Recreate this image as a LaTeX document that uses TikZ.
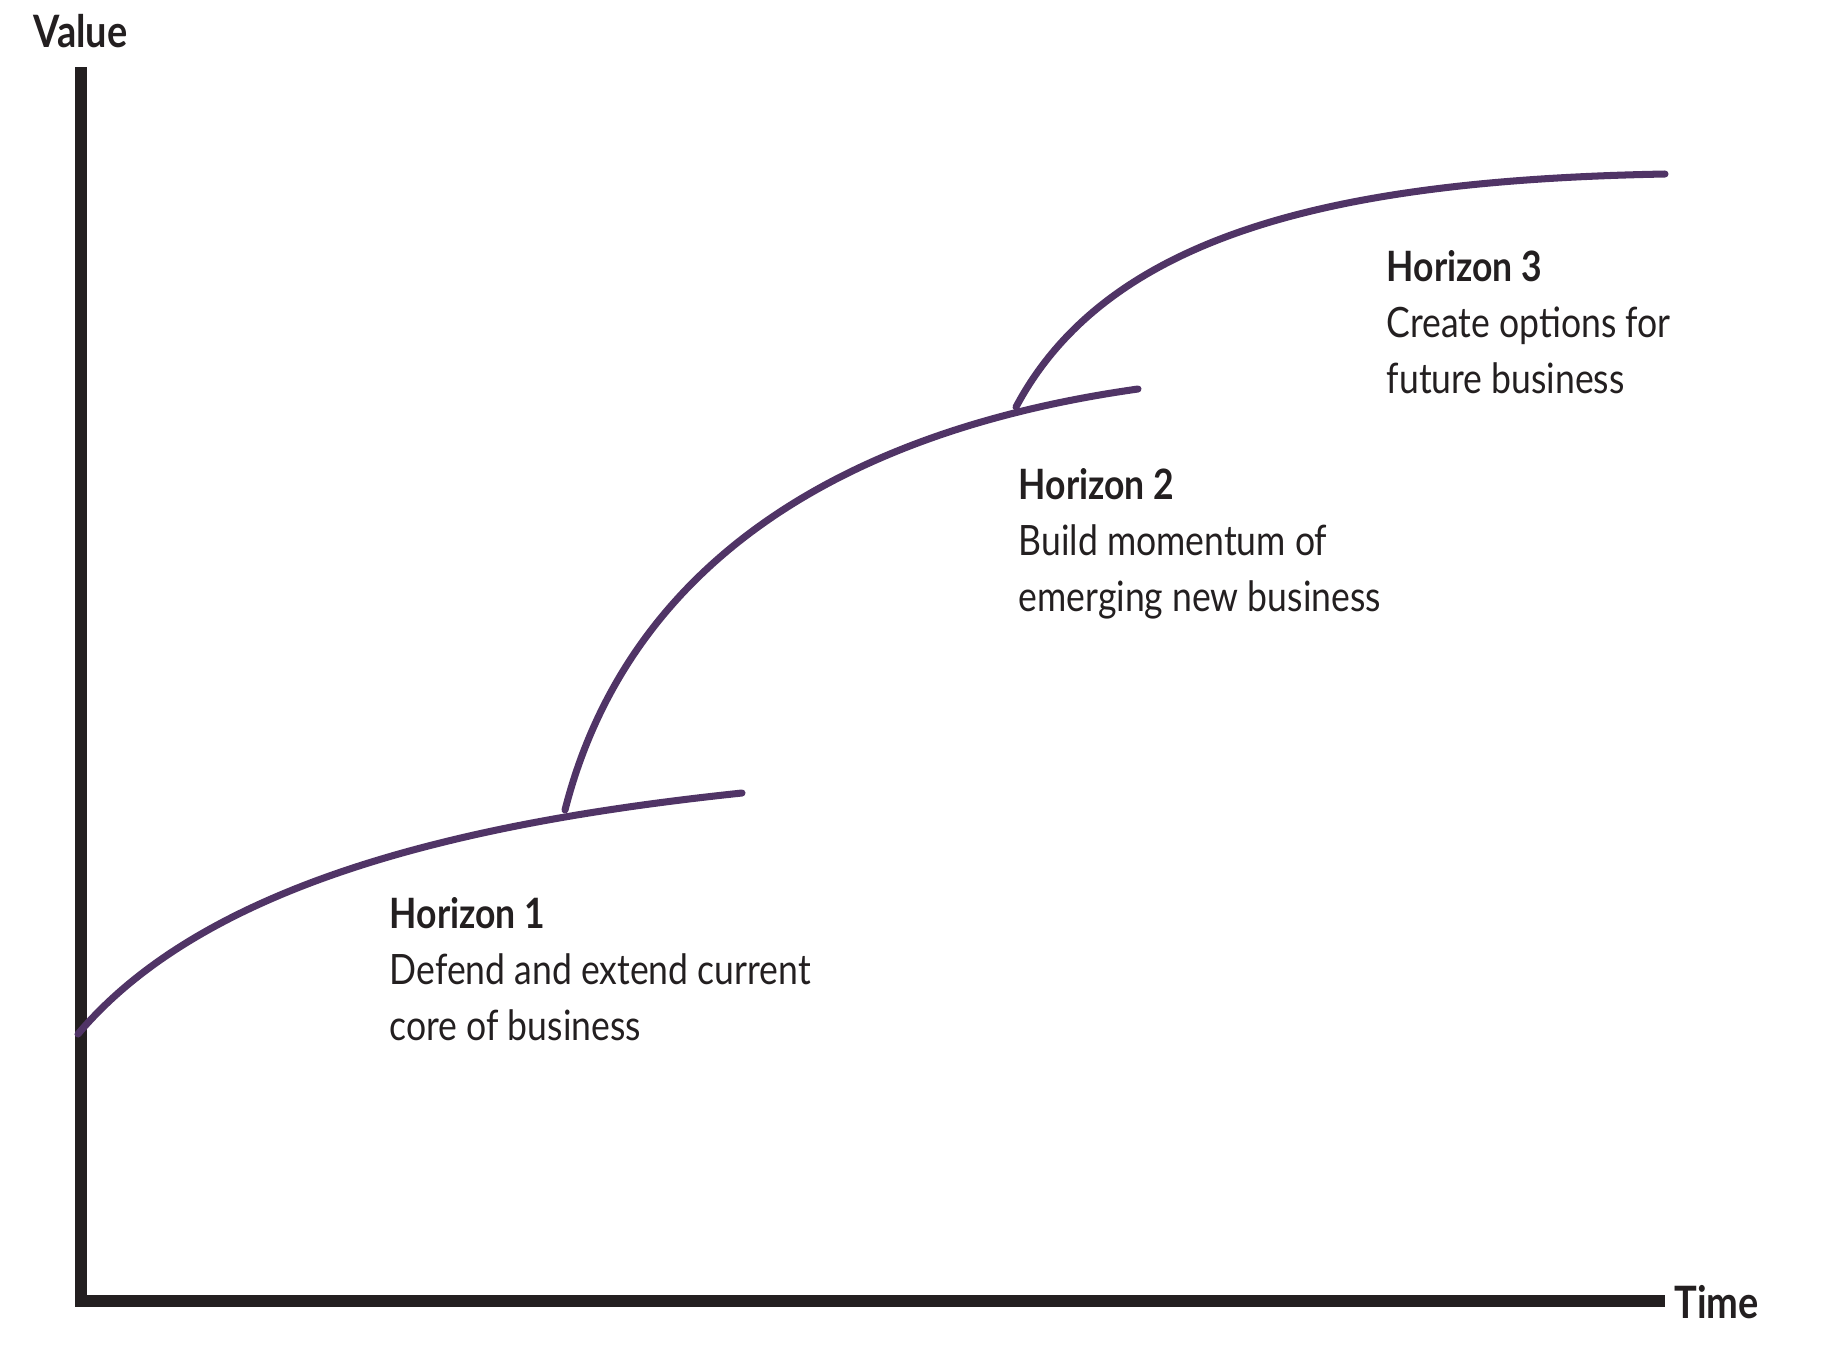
\documentclass[tikz,border=0pt]{standalone}
\usepackage{fontspec}
\setmainfont[FakeStretch=0.85]{Lato}
\usepackage{tikz}
\usepackage{xcolor}
\definecolor{hzpurple}{RGB}{80,52,102}
\definecolor{axisblack}{RGB}{35,31,32}

\begin{document}
\begin{tikzpicture}[scale=0.2,
  axisline/.style={axisblack, line width=3.4pt, line join=miter},
  hzcurve/.style={hzpurple, line width=2pt, line cap=round},
  axislabel/.style={font=\fontsize{12.7}{15}\selectfont\bfseries, text=axisblack},
  hzlabel/.style={anchor=north west, align=left, text=axisblack,
    font=\fontsize{11.9}{15.93}\selectfont}]
        \tikzstyle{every node}+=[inner sep=0pt]
        \useasboundingbox (0,0) rectangle (91.8,-67.9);
        \draw [axisline] (4.05,-3.35) -- (4.05,-65.05) -- (83.25,-65.05);
        \node (value) at (4.03,-2.35) [axislabel, anchor=base] {Value};
        \node (time) at (83.7,-65.9) [axislabel, anchor=base west] {Time};
        \draw [hzcurve] (3.9,-51.7) .. controls (10.53,-43.84) and (24.17,-41.01) .. (37.1,-39.65);
        \draw [hzcurve] (28.25,-40.5) .. controls (31.2,-28.91) and (41.06,-21.68) .. (56.9,-19.45);
        \draw [hzcurve] (50.8,-20.35) .. controls (55.49,-11.52) and (67.25,-9.0) .. (83.25,-8.7);
        \node (h1) at (19.45,-44.85) [hzlabel] {\textbf{Horizon 1}\\Defend and extend current\\core of business};
        \node (h2) at (50.9,-23.4) [hzlabel] {\textbf{Horizon 2}\\Build momentum of\\emerging new business};
        \node (h3) at (69.3,-12.5) [hzlabel] {\textbf{Horizon 3}\\Create options for\\future business};
        \end{tikzpicture}
\end{document}
